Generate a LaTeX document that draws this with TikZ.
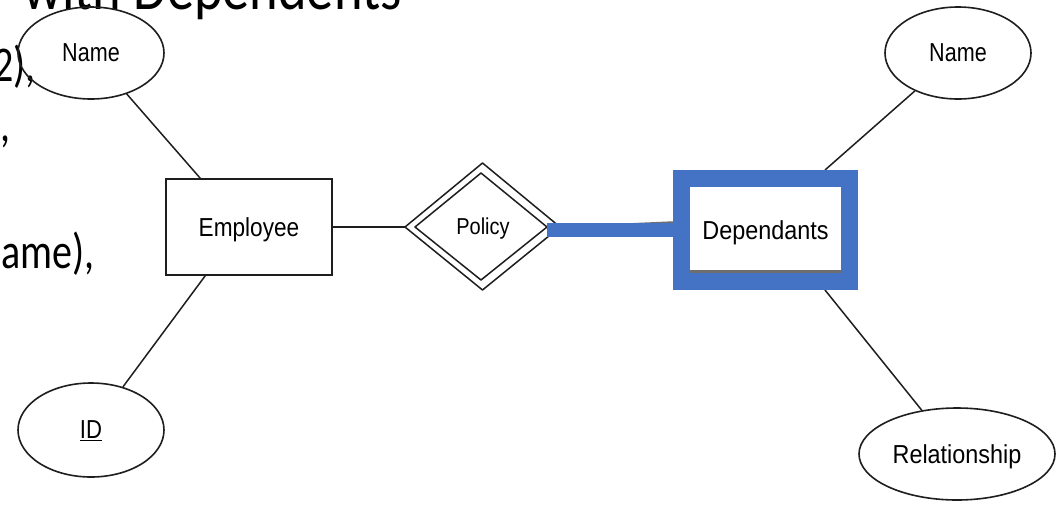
\documentclass[tikz,border=0pt]{standalone}
\usepackage{fontspec}
\setsansfont{Liberation Sans}
\newfontfamily\slidefont{Carlito}
\usetikzlibrary{shapes.geometric,calc,backgrounds}
\definecolor{erblue}{HTML}{4472C4}
\definecolor{erline}{HTML}{1E1E1E}
\definecolor{ergrey}{HTML}{6E6E6E}
% horizontally condensed text
\newcommand\narrow[2][0.87]{\scalebox{#1}[1]{#2}}
\begin{document}
\begin{tikzpicture}[x=1pt, y=-1pt, line join=round,
  lbl/.style={font=\sffamily\fontsize{26}{26}\selectfont, text depth=0pt},
  attr/.style={ellipse, draw=erline, line width=1.6pt, inner sep=0pt, lbl},
  entity/.style={rectangle, draw=erline, line width=1.6pt, fill=white, inner sep=0pt, lbl, line join=miter},
  link/.style={draw=erline, line width=1.5pt},
  slidetext/.style={font=\slidefont\fontsize{50}{50}\selectfont, inner sep=0pt},
  slidetitle/.style={font=\slidefont\fontsize{64}{64}\selectfont, inner sep=0pt}]

\useasboundingbox (0,0) rectangle (1058,504);
\clip (0,0) rectangle (1058,504);
\begin{scope}[on background layer]
  \fill[white] (0,0) rectangle (1058,504);
\end{scope}

% slide text running behind the diagram
\node[slidetitle, anchor=base west] (title) at (23,9) {\narrow[0.85]{with Dependents}};
\node[slidetext, anchor=base east] (lineA) at (36,81) {\narrow[0.8]{2),}};
\node[slidetext, anchor=base east] (lineB) at (11,141) {\narrow[0.8]{,}};
\node[slidetext, anchor=base east] (lineC) at (95,268) {\narrow[0.8]{ame),}};

% entities
\node[entity, minimum width=166pt, minimum height=96pt] (emp) at (249,227) {\narrow{Employee}};
\node[entity, draw=erblue, line width=17pt, minimum width=168pt, minimum height=103pt]
  (dep) at (765.5,230) {\narrow[0.9]{Dependants}};
\draw[ergrey, line width=3pt] (690,271.5) -- (842,271.5);

% attributes
\node[attr, minimum width=146pt, minimum height=92pt] (nameL) at (91,53) {\narrow[0.83]{Name}};
\node[attr, minimum width=146pt, minimum height=94pt] (id) at (91,430) {\narrow[0.85]{\underline{ID}}};
\node[attr, minimum width=146pt, minimum height=92pt] (nameR) at (958,53) {\narrow[0.83]{Name}};
\node[attr, minimum width=196pt, minimum height=92pt] (rel) at (957,454) {\narrow[0.9]{Relationship}};

% identifying relationship (double diamond)
\coordinate (polT) at (482.5,163);
\coordinate (polR) at (560,227);
\coordinate (polB) at (482.5,290);
\coordinate (polL) at (405,227);
\coordinate (polBar) at (547,230);
\draw[link] (polT) -- (polR) -- (polB) -- (polL) -- cycle;
\draw[link] (481,173) -- (547,227) -- (481,280) -- (415,227) -- cycle;
\node[lbl, font=\sffamily\fontsize{23}{23}\selectfont] (pol) at (483,226.5) {\narrow{Policy}};

% connectors
\draw[link] (nameL) -- ($(emp.north west)+(35,0)$);
\draw[link] (id) -- ($(emp.south west)+(40,0)$);
\draw[link] (emp.east) -- (polL);
\draw[ergrey, line width=1.5pt] (polR) -- ($(dep.west)+(0,-8)$);
\draw[erblue, line width=14pt] (polBar) -- (dep.west);
\begin{scope}[on background layer]
  \draw[link] ($(dep.north)+(59.5,0)$) -- (nameR);
  \draw[link] ($(dep.south)+(59.5,0)$) -- (rel);
\end{scope}
\end{tikzpicture}
\end{document}
